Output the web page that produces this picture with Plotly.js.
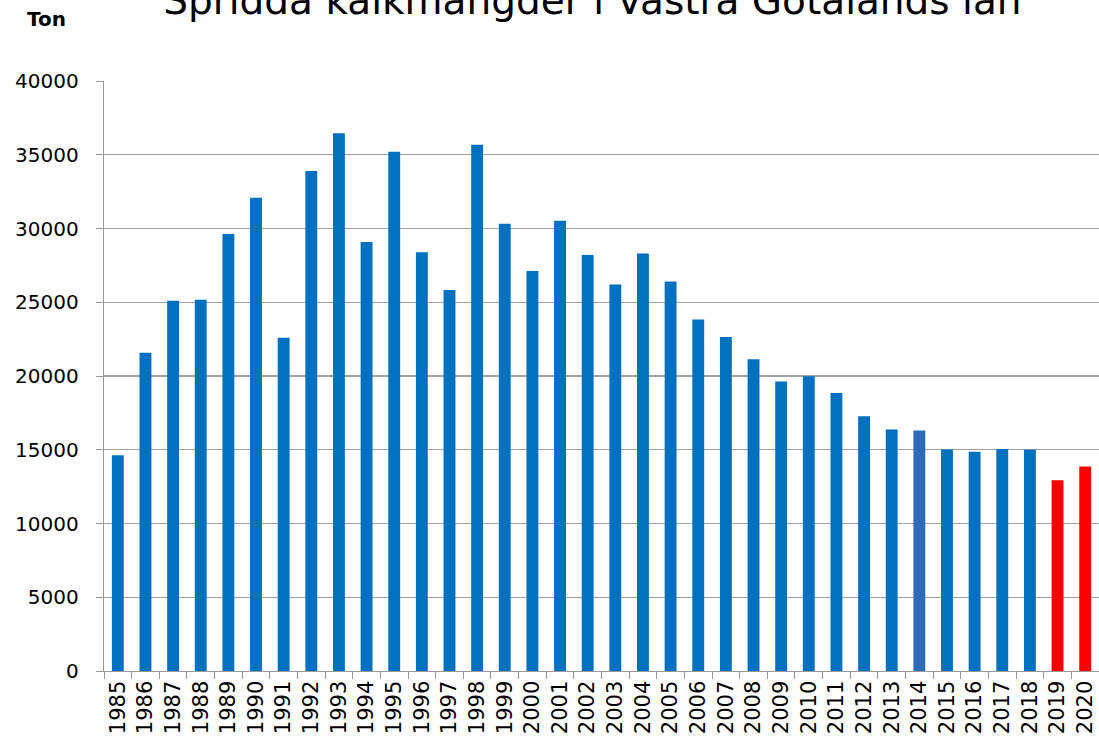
<!DOCTYPE html>
<html>
<head>
<meta charset="utf-8">
<script src="https://cdn.plot.ly/plotly-3.0.1.min.js"></script>
<style>html,body{margin:0;padding:0;background:#fff;}#chart{width:1099px;height:744px;}</style>
</head>
<body>
<div id="chart"></div>
<script>
const years = ["1985","1986","1987","1988","1989","1990","1991","1992","1993","1994","1995","1996","1997","1998","1999","2000","2001","2002","2003","2004","2005","2006","2007","2008","2009","2010","2011","2012","2013","2014","2015","2016","2017","2018","2019","2020"];
const tons = [14620,21580,25100,25170,29630,32090,22600,33900,36450,29080,35210,28390,25830,35680,30330,27120,30530,28200,26200,28300,26400,23830,22650,21130,19620,19980,18850,17270,16380,16300,15010,14870,15050,15000,12940,13870];
const highlightYears = ["2019","2020"];
const titleText = "Spridda kalkmängder i Västra Götalands län";
const unitText = "Ton";

const colors = years.map(y => highlightYears.includes(y) ? "#FF0000" : (y === "2014" ? "#2D6CB5" : "#0070C0"));

const trace = {
  type: "bar",
  x: years,
  y: tons,
  width: 0.43,
  marker: {color: colors, line: {width: 0}},
  hoverinfo: "x+y"
};

const font = "DejaVu Sans, sans-serif";
const layout = {
  width: 1099,
  height: 744,
  margin: {l: 104, r: 0, t: 81, b: 73},
  paper_bgcolor: "#fff",
  plot_bgcolor: "#fff",
  showlegend: false,
  title: {
    text: titleText,
    font: {family: font, size: 39, color: "#000"},
    x: 0.539, xref: "container", xanchor: "center",
    y: 1, yref: "container", yanchor: "middle"
  },
  xaxis: {
    type: "category",
    tickangle: -90,
    tickfont: {family: font, size: 21, color: "#000"},
    tickson: "boundaries",
    ticks: "outside",
    ticklen: 7,
    tickcolor: "#999",
    showline: true,
    linecolor: "#999",
    linewidth: 1.3,
    showgrid: false,
    zeroline: false
  },
  yaxis: {
    range: [0, 40000],
    tickvals: [0,5000,10000,15000,20000,25000,30000,35000,40000],
    ticktext: ["0","5000","10000","15000","20000","25000","30000","35000","40000"],
    tickfont: {family: font, size: 20, color: "#000"},
    ticks: "outside",
    ticklen: 7,
    tickcolor: "#999",
    ticklabelstandoff: 13,
    showline: true,
    linecolor: "#999",
    linewidth: 1.3,
    gridcolor: "#A0A0A0",
    gridwidth: 1.3,
    zeroline: false
  },
  annotations: [{
    text: "<b>" + unitText + "</b>",
    xref: "paper", yref: "paper",
    x: -0.079, y: 1.105,
    xanchor: "left", yanchor: "middle",
    showarrow: false,
    font: {family: font, size: 20, color: "#000"}
  }]
};

Plotly.newPlot("chart", [trace], layout, {displayModeBar: false, staticPlot: true});
</script>
</body>
</html>
